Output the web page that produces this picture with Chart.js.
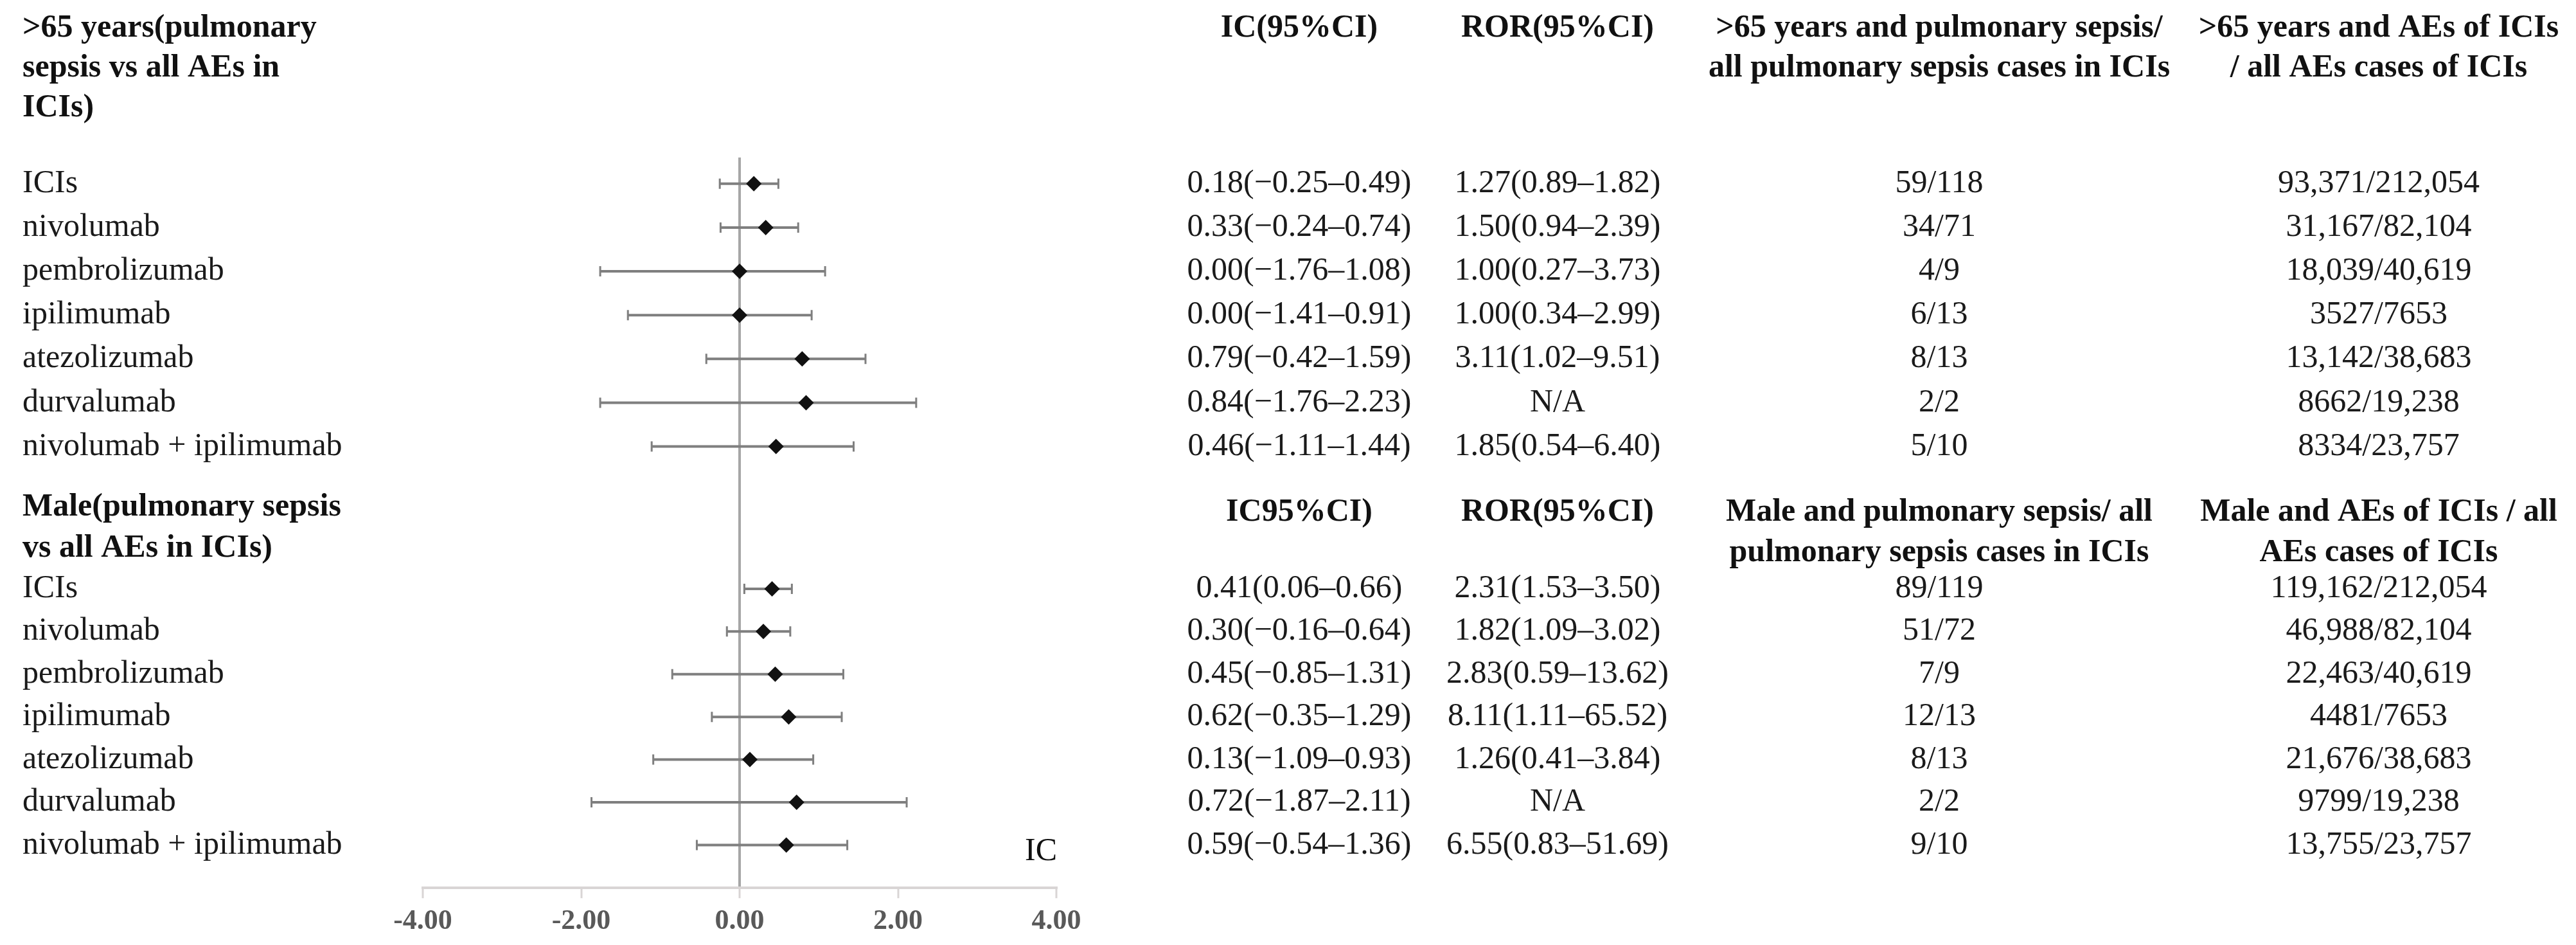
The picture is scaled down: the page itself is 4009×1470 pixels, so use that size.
<!DOCTYPE html>
<html><head><meta charset="utf-8">
<script src="https://cdn.jsdelivr.net/npm/chart.js@4"></script>
<style>html,body{margin:0;padding:0;background:#fff;}canvas{display:block}</style>
</head><body>
<canvas id="c" width="4009" height="1470"></canvas>
<script>
// ---------- data ----------
const drugs = ["ICIs","nivolumab","pembrolizumab","ipilimumab","atezolizumab","durvalumab","nivolumab + ipilimumab"];

const ageIC   = [0.18, 0.33, 0.00, 0.00, 0.79, 0.84, 0.46];
const ageLow  = [-0.25, -0.24, -1.76, -1.41, -0.42, -1.76, -1.11];
const ageHigh = [0.49, 0.74, 1.08, 0.91, 1.59, 2.23, 1.44];
const ageROR  = ["1.27(0.89–1.82)","1.50(0.94–2.39)","1.00(0.27–3.73)","1.00(0.34–2.99)","3.11(1.02–9.51)","N/A","1.85(0.54–6.40)"];
const ageCases = ["59/118","34/71","4/9","6/13","8/13","2/2","5/10"];
const ageAll   = ["93,371/212,054","31,167/82,104","18,039/40,619","3527/7653","13,142/38,683","8662/19,238","8334/23,757"];

const maleIC   = [0.41, 0.30, 0.45, 0.62, 0.13, 0.72, 0.59];
const maleLow  = [0.06, -0.16, -0.85, -0.35, -1.09, -1.87, -0.54];
const maleHigh = [0.66, 0.64, 1.31, 1.29, 0.93, 2.11, 1.36];
const maleROR  = ["2.31(1.53–3.50)","1.82(1.09–3.02)","2.83(0.59–13.62)","8.11(1.11–65.52)","1.26(0.41–3.84)","N/A","6.55(0.83–51.69)"];
const maleCases = ["89/119","51/72","7/9","12/13","8/13","2/2","9/10"];
const maleAll   = ["119,162/212,054","46,988/82,104","22,463/40,619","4481/7653","21,676/38,683","9799/19,238","13,755/23,757"];

const ageHeaderLeft = [">65 years(pulmonary","sepsis vs all AEs in","ICIs)"];
const ageHeaders = [["IC(95%CI)"],["ROR(95%CI)"],[">65 years and pulmonary sepsis/","all pulmonary sepsis cases in ICIs"],[">65 years and AEs of ICIs","/ all AEs cases of ICIs"]];
const maleHeaderLeft = ["Male(pulmonary sepsis","vs all AEs in ICIs)"];
const maleHeaders = [["IC95%CI)"],["ROR(95%CI)"],["Male and pulmonary sepsis/ all","pulmonary sepsis cases in ICIs"],["Male and AEs of ICIs / all","AEs cases of ICIs"]];

const xTicks = [-4, -2, 0, 2, 4];
const axisTitle = "IC";

// ---------- layout ----------
const COL_X = [2022, 2424, 3018, 3702];
const LABEL_X = 35;
const FONT = '"Liberation Serif", "Times New Roman", serif';

const groups = [
  {start: 0, step: 1, ic: ageIC, low: ageLow, high: ageHigh, ror: ageROR, cases: ageCases, all: ageAll,
   hLeft: ageHeaderLeft, hLeftY: [44,106,168], headers: ageHeaders, headY: [44,106]},
  {start: 9.25, step: 0.975, ic: maleIC, low: maleLow, high: maleHigh, ror: maleROR, cases: maleCases, all: maleAll,
   hLeft: maleHeaderLeft, hLeftY: [789,853], headers: maleHeaders, headY: [797,860]}
];
const rowPos = (g, i) => g.start + i * g.step;

function fmt(v){ return (v < 0 ? '−' : '') + Math.abs(v).toFixed(2); }

const points = [];
groups.forEach(g => g.ic.forEach((v, i) => points.push({x: v, y: rowPos(g, i)})));

const errorBars = {
  id: 'errorBars',
  beforeDatasetsDraw(chart) {
    const {ctx} = chart, xs = chart.scales.x, ys = chart.scales.y;
    ctx.save();
    ctx.strokeStyle = '#7f7f7f';
    groups.forEach(g => g.ic.forEach((v, i) => {
      const y = ys.getPixelForValue(rowPos(g, i));
      const x1 = xs.getPixelForValue(g.low[i]), x2 = xs.getPixelForValue(g.high[i]);
      ctx.lineWidth = 4;
      ctx.beginPath(); ctx.moveTo(x1, y); ctx.lineTo(x2, y); ctx.stroke();
      ctx.lineWidth = 3;
      ctx.beginPath();
      ctx.moveTo(x1, y - 8); ctx.lineTo(x1, y + 8);
      ctx.moveTo(x2, y - 8); ctx.lineTo(x2, y + 8);
      ctx.stroke();
    }));
    ctx.restore();
  }
};

const tableText = {
  id: 'tableText',
  afterDraw(chart) {
    const {ctx} = chart, ys = chart.scales.y, xs = chart.scales.x;
    ctx.save();
    ctx.textBaseline = 'middle';
    groups.forEach(g => {
      ctx.fillStyle = '#111';
      ctx.font = 'bold 50px ' + FONT;
      ctx.textAlign = 'left';
      g.hLeft.forEach((t, k) => ctx.fillText(t, LABEL_X, g.hLeftY[k]));
      ctx.textAlign = 'center';
      g.headers.forEach((lines, c) => lines.forEach((t, k) => ctx.fillText(t, COL_X[c], g.headY[k])));
      ctx.font = '50px ' + FONT;
      ctx.fillStyle = '#1a1a1a';
      drugs.forEach((d, i) => {
        const y = ys.getPixelForValue(rowPos(g, i));
        ctx.textAlign = 'left';
        ctx.fillText(d, LABEL_X, y);
        ctx.textAlign = 'center';
        ctx.fillText(fmt(g.ic[i]) + '(' + fmt(g.low[i]) + '–' + fmt(g.high[i]) + ')', COL_X[0], y);
        ctx.fillText(g.ror[i], COL_X[1], y);
        ctx.fillText(g.cases[i], COL_X[2], y);
        ctx.fillText(g.all[i], COL_X[3], y);
      });
    });
    // axis title "IC"
    const last = groups[groups.length - 1];
    ctx.font = '50px ' + FONT;
    ctx.fillStyle = '#111';
    ctx.textAlign = 'center';
    ctx.fillText(axisTitle, xs.right - 24, ys.getPixelForValue(rowPos(last, drugs.length - 1)) + 10);
    ctx.restore();
  }
};

new Chart(document.getElementById('c'), {
  type: 'scatter',
  data: {
    datasets: [{
      data: points,
      pointStyle: 'rectRot',
      radius: 12,
      hoverRadius: 12,
      backgroundColor: '#111',
      borderWidth: 0
    }]
  },
  options: {
    responsive: false,
    devicePixelRatio: 1,
    animation: false,
    layout: {padding: {left: 658, right: 2365, top: 245, bottom: 0}},
    plugins: {legend: {display: false}, tooltip: {enabled: false}},
    scales: {
      x: {
        type: 'linear',
        min: xTicks[0], max: xTicks[xTicks.length - 1],
        afterBuildTicks: s => { s.ticks = xTicks.map(v => ({value: v})); },
        grid: {
          color: c => (c.tick && c.tick.value === 0) ? '#a6a6a6' : 'rgba(0,0,0,0)',
          lineWidth: 4,
          drawTicks: true,
          tickLength: 16,
          tickColor: '#d9d5d5',
          tickWidth: 3
        },
        border: {display: true, color: '#d9d5d5', width: 4},
        ticks: {
          padding: 10,
          color: '#595959',
          font: {family: 'Liberation Serif', size: 44, weight: 'bold'},
          callback: v => Number(v).toFixed(2)
        }
      },
      y: {
        type: 'linear',
        display: false,
        reverse: true,
        min: -0.6,
        max: 16.08
      }
    }
  },
  plugins: [errorBars, tableText]
});
</script>
</body></html>
